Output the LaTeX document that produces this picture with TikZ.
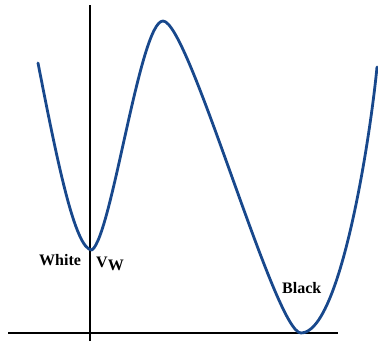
\documentclass[tikz,border=0pt]{standalone}
\usepackage{fontspec}
\setmainfont{Liberation Serif}
\definecolor{curveblue}{RGB}{24,72,140}
\begin{document}
\begin{tikzpicture}[x=1pt,y=-1pt,
  axis/.style={line width=1.8pt,black},
  curve/.style={line width=2.8pt,curveblue,line cap=round,line join=round},
  lbl/.style={font=\fontsize{16}{16}\selectfont\bfseries,inner sep=0pt}]
\useasboundingbox (0,0) rectangle (378,341);
\coordinate (yb) at (90,341);
\coordinate (yt) at (90,5);
\coordinate (xl) at (8,333);
\coordinate (xr) at (338,333);
\coordinate (s) at (38,63);
\coordinate (m1) at (92,250);
\coordinate (pk) at (163,21);
\coordinate (m2) at (301,333);
\coordinate (e) at (377,67);
\draw[axis] (yb) -- (yt);
\draw[axis] (xl) -- (xr);
\draw[curve] (s) .. controls (57,160) and (75,250) .. (m1)
  .. controls (112,235) and (140,21) .. (pk)
  .. controls (189,21) and (275,333) .. (m2)
  .. controls (340,333) and (370,140) .. (e);
\node[lbl,anchor=base west] (white) at (39,265) {White};
\node[lbl,anchor=base west] (vw) at (96,267) {V\raisebox{-0.5ex}{W}};
\node[lbl,anchor=base west] (black) at (282,293) {Black};
\end{tikzpicture}
\end{document}
